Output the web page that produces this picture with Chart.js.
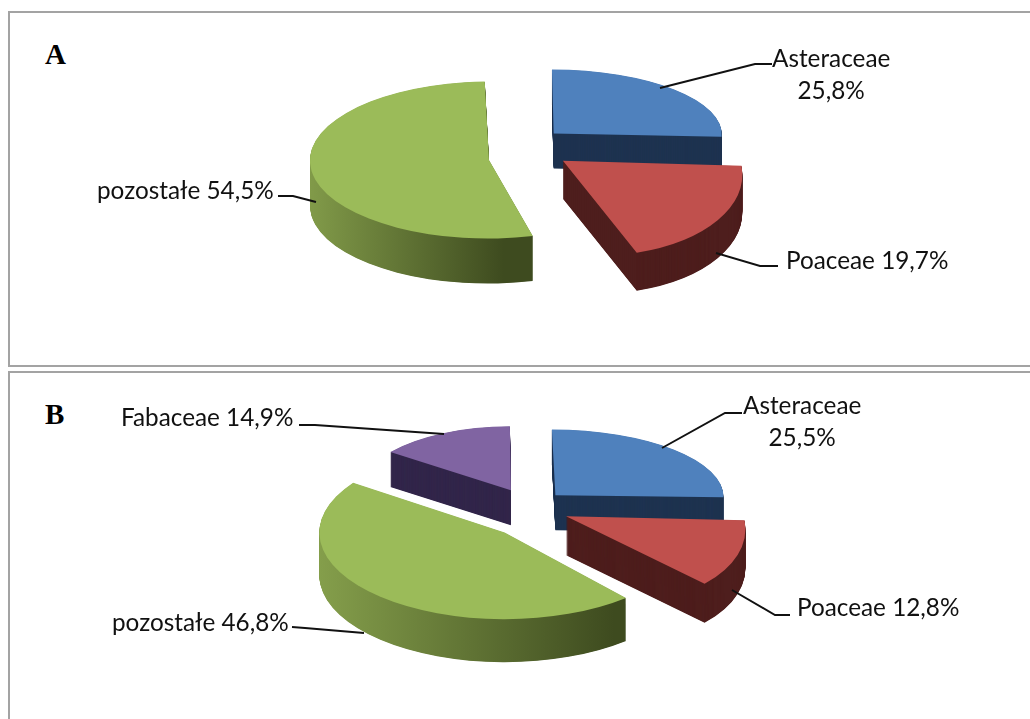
<!DOCTYPE html>
<html lang="pl">
<head>
<meta charset="utf-8">
<title>Asteraceae, Poaceae, Fabaceae</title>
<script src="https://cdn.jsdelivr.net/npm/chart.js@4"></script>
<style>
  html, body { margin: 0; padding: 0; background: #fff; overflow: hidden; }
  #page { position: relative; width: 1030px; height: 719px; overflow: hidden; }
  .panel { position: absolute; left: 8px; width: 1040px; border: 2px solid #a3a3a3; box-sizing: border-box; }
  .letter { position: absolute; font: bold 29px "Liberation Serif", serif; color: #000; line-height: 1; }
  .label { position: absolute; font: 24.3px/32px Lato, sans-serif; color: #111; white-space: nowrap; text-align: center; }
  canvas { position: absolute; }
  svg { position: absolute; left: 0; top: 0; }
</style>
</head>
<body>
<div id="page">
  <div class="panel" style="top:11px;height:356px"></div>
  <div class="panel" style="top:371px;height:380px"></div>
  <div class="letter" style="left:45px;top:40px">A</div>
  <div class="letter" style="left:45px;top:400px">B</div>
  <canvas id="pieA" width="600" height="340" style="left:222px;top:-25px"></canvas>
  <canvas id="pieB" width="600" height="340" style="left:225px;top:337px"></canvas>
  <svg id="leaders" width="1030" height="719"></svg>
</div>
<script>
// ------------------------------------------------------
// Data
// ------------------------------------------------------
const categoriesA = ["Asteraceae", "Poaceae", "pozostałe"];
const valuesA = [25.8, 19.7, 54.5];

const categoriesB = ["Asteraceae", "Poaceae", "pozostałe", "Fabaceae"];
const valuesB = [25.5, 12.8, 46.8, 14.9];

// same order as categoriesB, A just has no purple slice
const topColors = ["#4f81bd", "#c0504d", "#9bbb59", "#8064a2"];
const sideColors = [["#1e3350"], ["#4e1e1d"], ["#8ba64f", "#3e4b1f"], ["#32264a"]];

// ------------------------------------------------------
// Fake 3D look, per slice because the original has perspective
// (big slices get a larger radius from Arc's offset handling, widen/tilt undo that)
// ------------------------------------------------------
const PIE_RADIUS = 175;

const styleA = {
    explode: [46, 47, 40],
    tilt: [0.365, 0.54, 0.365],
    skew: [0.01, 0.14, -0.005],
    widen: [0.96, 1, 0.833],
    lift: [0, 0, 13],
    depth: [35, 38, 45],
    order: [2, 0, 1]
};

const styleB = {
    explode: [45, 45, 33, 38],
    tilt: [0.375, 0.49, 0.43, 0.35],
    skew: [0.02, 0.13, 0, 0],
    widen: [0.96, 0.947, 0.92, 0.824],
    lift: [0, 0, 15, -5],
    depth: [35, 39, 43, 35],
    order: [3, 2, 0, 1]
};

// Draws the arcs the chart already laid out, squashed and stacked
const pie3d = {
    id: "pie3d",
    beforeDatasetsDraw(chart, args, style) {
        const ctx = chart.ctx;
        const arcs = chart.getDatasetMeta(0).data;

        style.order.forEach(i => {
            const arc = arcs[i];
            const base = arc.options;
            const half = (arc.startAngle + arc.endAngle) / 2;
            const apexX = arc.x + Math.cos(half) * style.explode[i];

            let side = sideColors[i][0];
            if (sideColors[i].length > 1) {
                const x0 = apexX - PIE_RADIUS * 1.2;
                const x1 = apexX + PIE_RADIUS * 1.2 * Math.cos(arc.startAngle);
                side = ctx.createLinearGradient(x0, 0, x1, 0);
                side.addColorStop(0, sideColors[i][0]);
                side.addColorStop(1, sideColors[i][1]);
            }

            const place = dy => {
                ctx.save();
                ctx.translate(arc.x, arc.y + style.lift[i] + dy);
                ctx.transform(style.widen[i], 0, style.skew[i], style.tilt[i], 0, 0);
                ctx.translate(-arc.x, -arc.y);
                arc.draw(ctx);
                ctx.restore();
            };

            arc.options = Object.assign({}, base, { backgroundColor: side });
            for (let d = style.depth[i]; d > 0; d -= 0.5) {
                place(d);
            }
            arc.options = base;
            place(0);
        });
        return false;
    }
};

function makePie(canvasId, labels, values, style) {
    new Chart(document.getElementById(canvasId), {
        type: "pie",
        data: {
            labels: labels,
            datasets: [{
                data: values,
                backgroundColor: topColors.slice(0, labels.length),
                borderWidth: 0,
                offset: style.explode.map(px => px * 4) // Arc divides offset by 4
            }]
        },
        options: {
            responsive: false,
            animation: false,
            radius: PIE_RADIUS,
            plugins: {
                legend: { display: false },
                tooltip: { enabled: false },
                pie3d: style
            }
        },
        plugins: [pie3d]
    });
}

makePie("pieA", categoriesA, valuesA, styleA);
makePie("pieB", categoriesB, valuesB, styleB);

// ------------------------------------------------------
// Labels and leader lines
// ------------------------------------------------------
const pct = v => v.toFixed(1).replace(".", ",") + "%";

const labelPlaces = [
    { name: categoriesA[0], value: valuesA[0], left: 772, top: 42, twoLines: true },
    { name: categoriesA[1], value: valuesA[1], left: 786, top: 244 },
    { name: categoriesA[2], value: valuesA[2], left: 97, top: 174 },
    { name: categoriesB[0], value: valuesB[0], left: 743, top: 389, twoLines: true },
    { name: categoriesB[1], value: valuesB[1], left: 797, top: 591 },
    { name: categoriesB[2], value: valuesB[2], left: 112, top: 606 },
    { name: categoriesB[3], value: valuesB[3], left: 121, top: 401 }
];

const leaderLines = [
    "772,64 755,64 660,88",
    "778,266 760,266 716,253",
    "278,196 293,196 316,202",
    "742,413 725,413 662,448",
    "790,615 775,615 732,590",
    "292,627 305,628 364,633",
    "299,425 315,425 444,434"
];

const page = document.getElementById("page");
labelPlaces.forEach(item => {
    const div = document.createElement("div");
    div.className = "label";
    div.style.left = item.left + "px";
    div.style.top = item.top + "px";
    div.innerHTML = item.twoLines
        ? item.name + "<br>" + pct(item.value)
        : item.name + " " + pct(item.value);
    page.appendChild(div);
});

const svg = document.getElementById("leaders");
leaderLines.forEach(points => {
    const line = document.createElementNS("http://www.w3.org/2000/svg", "polyline");
    line.setAttribute("points", points);
    line.setAttribute("fill", "none");
    line.setAttribute("stroke", "#111");
    line.setAttribute("stroke-width", "2");
    svg.appendChild(line);
});
</script>
</body>
</html>
